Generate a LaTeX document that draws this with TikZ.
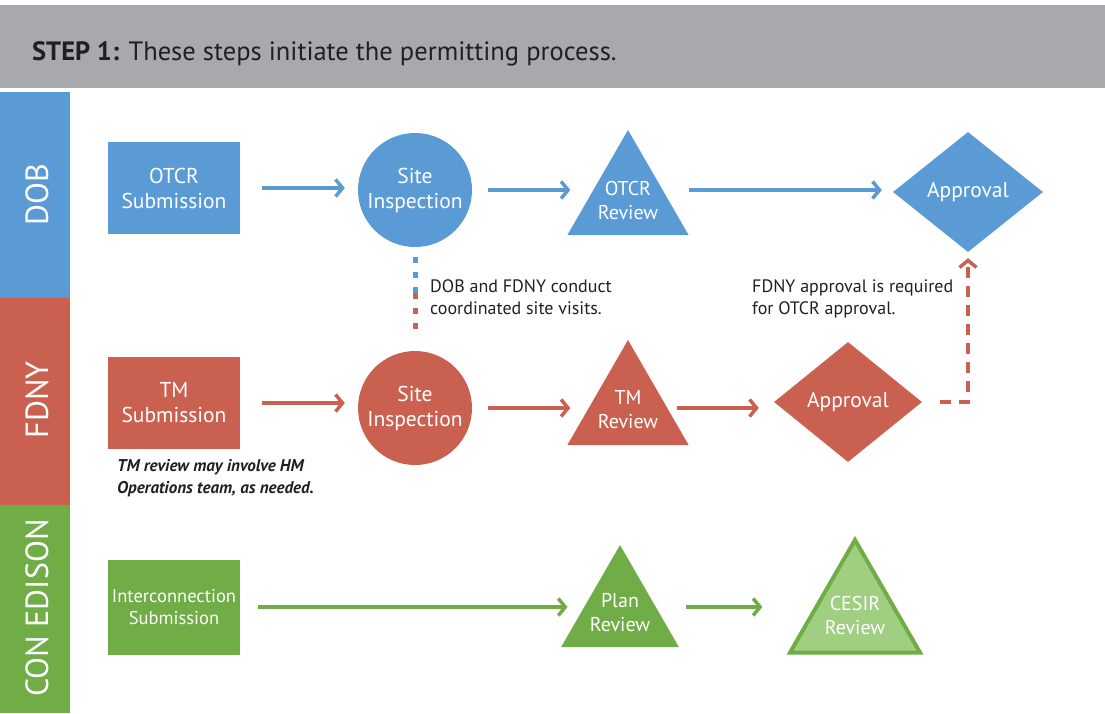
\documentclass[tikz,border=0pt]{standalone}
\usepackage{fontspec}
\setmainfont{PT Sans}
\usetikzlibrary{shapes.geometric,arrows.meta,calc}

\definecolor{headgray}{HTML}{A7A9AC}
\definecolor{dobblue}{HTML}{5B9BD5}
\definecolor{fdnyred}{HTML}{CA6150}
\definecolor{cegreen}{HTML}{70AD47}
\definecolor{celight}{HTML}{A0CF82}
\definecolor{inkgray}{HTML}{231F20}

\tikzset{
  shapetext/.style={text=white, align=center, inner sep=0pt, font=\fontsize{21.5}{25}\selectfont},
  box/.style={shapetext, rectangle, minimum width=132, minimum height=92},
  site/.style={shapetext, circle, minimum size=114},
  review/.style={shapetext, regular polygon, regular polygon sides=3, inner sep=-22pt, minimum size=140, font=\fontsize{20}{24}\selectfont},
  approve/.style={shapetext, diamond, minimum width=150, minimum height=120},
  tip/.style={-{Straight Barb[length=7pt,width=17pt,line width=3.5pt]}},
  flow/.style={line width=3.5pt, tip},
  link/.style={line width=5pt, dash pattern=on 6pt off 9pt},
  note/.style={text=inkgray, align=left, anchor=north west, inner sep=0pt, font=\fontsize{18}{22}\selectfont},
  lanetext/.style={text=white, rotate=90, font=\fontsize{32}{34}\selectfont}
}

\begin{document}
\begin{tikzpicture}[x=1pt,y=-1pt]
\useasboundingbox (0,0) rectangle (1105,713);

% header and lanes
\fill[headgray] (0,5) rectangle (1105,88);
\node[anchor=base west, text=inkgray, inner sep=0pt, font=\fontsize{26.5}{30}\selectfont] (title) at (32,60)
  {\textbf{STEP 1:} These steps initiate the permitting process.};
\fill[dobblue] (0,92) rectangle (70,298);
\fill[fdnyred] (0,298) rectangle (70,505);
\fill[cegreen] (0,505) rectangle (70,713);
\node[lanetext] (dob) at (37,195) {DOB};
\node[lanetext] (fdny) at (37,400) {FDNY};
\node[lanetext] (conedison) at (37,608) {CON EDISON};

% DOB
\node[box, fill=dobblue] (dsub) at (174,188) {OTCR\\Submission};
\node[site, fill=dobblue] (dsite) at (415,190) {Site\\Inspection};
\node[review, fill=dobblue] (drev) at (628,200) {OTCR\\Review};
\node[approve, fill=dobblue] (dapp) at (968,192) {Approval};

\draw[flow, dobblue, shorten <=22pt, shorten >=13pt] (dsub.east) -- (dsub.east -| dsite.west);
\draw[flow, dobblue, shorten <=16pt, shorten >=17pt] (dsite.east) -- (dsite.east -| drev.180);
\draw[flow, dobblue, shorten <=20pt, shorten >=11pt] (drev.0 |- dsite.east) -- (dsite.east -| dapp.west);

% FDNY
\node[box, fill=fdnyred] (fsub) at (174,403) {TM\\Submission};
\node[site, fill=fdnyred] (fsite) at (415,408) {Site\\Inspection};
\node[review, fill=fdnyred] (frev) at (628,410) {TM\\Review};
\node[approve, fill=fdnyred, minimum width=148] (fapp) at (848,402) {Approval};

\draw[flow, fdnyred, shorten <=22pt, shorten >=13pt] (fsub.east) -- (fsub.east -| fsite.west);
\draw[flow, fdnyred, shorten <=16pt, shorten >=17pt] (fsite.east) -- (fsite.east -| frev.180);
\draw[flow, fdnyred, shorten <=8pt, shorten >=15pt] (frev.0 |- fsite.east) -- (fsite.east -| fapp.west);

\node[note, font=\fontsize{17}{22}\selectfont\bfseries\itshape] (hmnote) at (117,459)
  {TM review may involve HM\\Operations team, as needed.};

% coordination
\coordinate (mid) at ($(dsite.south)!0.44!(fsite.north)$);
\draw[link, dobblue, shorten <=10pt] (dsite.south) -- (mid);
\draw[link, fdnyred, shorten >=20pt] (mid) -- (fsite.north);
\node[note] (visits) at (430,279) {DOB and FDNY conduct\\coordinated site visits.};

\draw[link, fdnyred, line width=4.5pt, dash pattern=on 11pt off 8pt, tip, shorten <=18pt, shorten >=6pt] (fapp.east) -| (dapp.south);
\node[note] (reqnote) at (752,279) {FDNY approval is required\\for OTCR approval.};

% Con Edison
\node[box, fill=cegreen, minimum height=95, font=\fontsize{18.5}{22}\selectfont] (csub) at (174,607) {Interconnection\\Submission};
\node[review, fill=cegreen, minimum size=136] (crev) at (620,613) {Plan\\Review};
\node[review, fill=celight, draw=cegreen, line width=4pt, minimum size=150] (cesir) at (855,615) {CESIR\\Review};

\draw[flow, cegreen, shorten <=18pt, shorten >=13pt] (csub.east) -- (csub.east -| crev.180);
\draw[flow, cegreen, shorten <=26pt, shorten >=47pt] (crev.0 |- csub.east) -- (csub.east -| cesir.180);
\end{tikzpicture}
\end{document}
